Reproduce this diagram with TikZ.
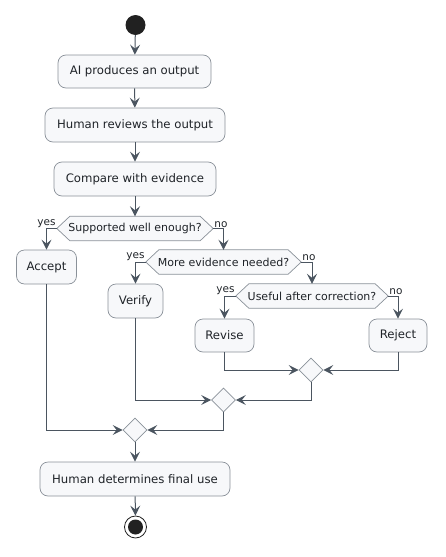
\documentclass[tikz,border=0pt]{standalone}
\usepackage{fontspec}
\setmainfont{DejaVu Sans}
\usetikzlibrary{arrows.meta,shapes.geometric,backgrounds}
\definecolor{boxfill}{HTML}{F7F8FA}
\definecolor{boxline}{HTML}{8A9199}
\definecolor{arrowc}{HTML}{4B5560}
\definecolor{txt}{HTML}{1F2328}
\begin{document}
\begin{tikzpicture}[x=1pt,y=-1pt,
  act/.style={draw=boxline,fill=boxfill,rounded corners=8pt,line width=0.7pt,text=txt,font=\fontsize{11.7}{13}\selectfont,inner sep=0pt,minimum height=#1},
  act/.default=34pt,
  hexa/.style={rectangle,text=txt,font=\fontsize{11}{13}\selectfont,inner sep=0pt,minimum height=24pt},
  hexline/.style={draw=boxline,fill=boxfill,line width=0.7pt},
  merge/.style={draw=boxline,fill=boxfill,diamond,line width=0.7pt,inner sep=0pt,minimum width=24pt,minimum height=24pt},
  flow/.style={draw=arrowc,line width=1pt,-{Stealth[length=10pt,width=10pt,inset=4pt]}},
  lbl/.style={text=txt,font=\fontsize{10.5}{12}\selectfont,inner sep=1pt}
]
\useasboundingbox (0,0) rectangle (446,557);
\node[circle,fill=black!87,minimum size=20pt,inner sep=0pt] (start) at (135.5,25) {};
\node[act=33pt,minimum width=153pt] (b1) at (134.5,71.5) {AI produces an output};
\node[act,minimum width=180pt] (b2) at (135,125) {Human reviews the output};
\node[act,minimum width=162pt] (b3) at (135,179) {Compare with evidence};
\node[hexa,minimum width=156pt] (d1) at (135,228.5) {Supported well enough?};
\node[act,minimum width=60pt] (acc) at (46.5,267) {Accept};
\node[hexa,minimum width=155pt] (d2) at (223.5,262) {More evidence needed?};
\node[act,minimum width=55pt] (ver) at (135.5,301) {Verify};
\node[hexa,minimum width=152pt] (d3) at (312,296) {Useful after correction?};
\node[act=33pt,minimum width=59pt] (rev) at (224.5,335.5) {Revise};
\node[act=33pt,minimum width=58pt] (rej) at (398,335.5) {Reject};
\node[merge] (m1) at (311,370) {};
\node[merge] (m2) at (223.5,400) {};
\node[merge] (m3) at (135,430) {};
\node[act,minimum width=190pt] (fin) at (135,479) {Human determines final use};
\node[circle,draw=black!87,line width=0.8pt,minimum size=22pt,inner sep=0pt] (stop) at (135.5,527) {};
\fill[black!87] (stop.center) circle (7.5pt);

\begin{scope}[on background layer]
\foreach \d in {d1,d2,d3}{
  \path[hexline] (\d.west) -- ([xshift=13pt]\d.north west) -- ([xshift=-13pt]\d.north east) -- (\d.east) -- ([xshift=-13pt]\d.south east) -- ([xshift=13pt]\d.south west) -- cycle;
}
\end{scope}

\draw[flow] (start) -- (b1);
\draw[flow] (b1) -- (b2);
\draw[flow] (b2) -- (b3);
\draw[flow] (b3) -- (d1);
\draw[flow] (d1.west) -| (acc.north);
\draw[flow] (d1.east) -| (d2.north);
\draw[flow] (d2.west) -| (ver.north);
\draw[flow] (d2.east) -| (d3.north);
\draw[flow] (d3.west) -| (rev.north);
\draw[flow] (d3.east) -| (rej.north);
\draw[flow] (rev.south) |- (m1.west);
\draw[flow] (rej.south) |- (m1.east);
\draw[flow] (ver.south) |- (m2.west);
\draw[flow] (m1.south) |- (m2.east);
\draw[flow] (acc.south) |- (m3.west);
\draw[flow] (m2.south) |- (m3.east);
\draw[flow] (m3) -- (fin);
\draw[flow] (fin) -- (stop);

\node[lbl,anchor=south east] (y1) at (d1.west) {yes};
\node[lbl,anchor=south west] (n1) at (d1.east) {no};
\node[lbl,anchor=south east] (y2) at (d2.west) {yes};
\node[lbl,anchor=south west] (n2) at (d2.east) {no};
\node[lbl,anchor=south east] (y3) at (d3.west) {yes};
\node[lbl,anchor=south west] (n3) at (d3.east) {no};
\end{tikzpicture}
\end{document}
